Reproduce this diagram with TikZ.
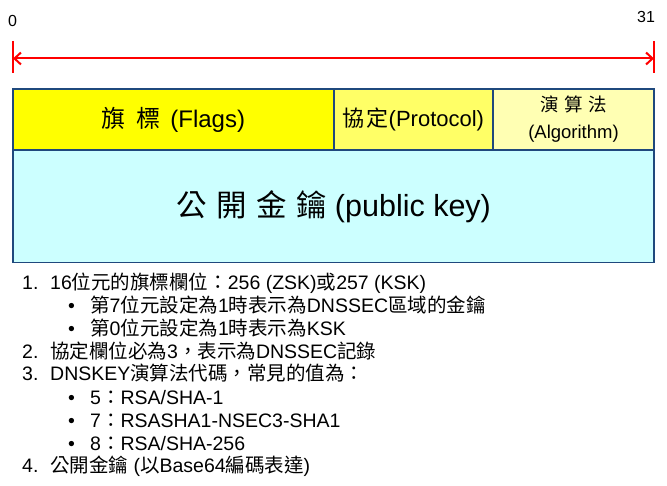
\documentclass[tikz,border=0pt]{standalone}
\usepackage{fontspec}
\setmainfont{Liberation Sans}
\newfontfamily\cjk{Noto Sans CJK TC}
\usetikzlibrary{arrows.meta}
\newcommand\zh[1]{{\cjk #1}}
\definecolor{navy}{RGB}{31,73,125}
\definecolor{flagsY}{RGB}{255,255,0}
\definecolor{protoY}{RGB}{255,255,102}
\definecolor{algoY}{RGB}{255,255,179}
\definecolor{keyC}{RGB}{204,255,255}
\definecolor{redline}{RGB}{255,0,0}
\begin{document}
\begin{tikzpicture}[x=1pt,y=-1pt,
  field/.style={draw=navy, line width=1.8pt, inner sep=0pt, outer sep=0pt, align=center},
  listtxt/.style={anchor=base west, inner sep=0pt, font=\fontsize{19.5}{22}\selectfont},
  numtxt/.style={listtxt},
  bullettxt/.style={listtxt},
  bitlabel/.style={inner sep=0pt, font=\fontsize{16}{18}\selectfont},
  redrule/.style={redline, line width=2pt}
]
\useasboundingbox (0,0) rectangle (667,486);

% bit scale
\node[bitlabel] (b0) at (12.5,21) {0};
\node[bitlabel] (b31) at (646,16.5) {31};
\coordinate (tl1) at (13,41);
\coordinate (tl2) at (13,73);
\coordinate (tr1) at (654,41);
\coordinate (tr2) at (654,73);
\coordinate (al) at (13,58.5);
\coordinate (ar) at (654,58.5);
\draw[redrule] (tl1) -- (tl2);
\draw[redrule] (tr1) -- (tr2);
\draw[redrule, {Straight Barb[length=6.5pt,width=12pt]}-{Straight Barb[length=6.5pt,width=12pt]}] (al) -- (ar);

% fields
\node[field, fill=flagsY, minimum width=321pt, minimum height=61pt,
  font=\fontsize{24}{28}\selectfont] (flags) at (173.5,119.5) {\zh{旗\hspace{0.45em}標}\hspace{0.4em}(Flags)};
\node[field, fill=protoY, minimum width=159pt, minimum height=61pt,
  font=\fontsize{22}{24}\selectfont] (proto) at (413.5,119.5) {\zh{協\hspace{0.08em}定}(Protocol)};
\node[field, fill=algoY, minimum width=161pt, minimum height=61pt,
  font=\fontsize{18.5}{27}\selectfont] (algo) at (573.5,119.5)
  {\raisebox{-2.5pt}{\begin{tabular}{@{}c@{}}\zh{演\hspace{0.3em}算\hspace{0.3em}法}\\[-0.5pt](Algorithm)\end{tabular}}};
\node[field, fill=keyC, minimum width=641pt, minimum height=112pt,
  font=\fontsize{30.5}{32}\selectfont] (pkey) at (333.5,206.5) {\zh{公\hspace{0.32em}開\hspace{0.32em}金\hspace{0.32em}鑰}\hspace{0.25em}(public key)};

% list
\node[numtxt] (n1) at (22,290) {1.};
\node[listtxt] (l1) at (50,290) {16\zh{位元的旗標欄位：}256 (ZSK)\zh{或}257 (KSK)};
\node[numtxt] (d1) at (68,313) {\textbullet};
\node[bullettxt] (l2) at (90,313) {\zh{第}7\zh{位元設定為}1\zh{時表示為}DNSSEC\zh{區域的金鑰}};
\node[numtxt] (d2) at (68,336) {\textbullet};
\node[bullettxt] (l3) at (90,336) {\zh{第}0\zh{位元設定為}1\zh{時表示為}KSK};
\node[numtxt] (n2) at (22,358.5) {2.};
\node[listtxt] (l4) at (50,358.5) {\zh{協定欄位必為}3\zh{，表示為}DNSSEC\zh{記錄}};
\node[numtxt] (n3) at (22,381) {3.};
\node[listtxt] (l5) at (50,381) {DNSKEY\zh{演算法代碼，常見的值為：}};
\node[numtxt] (d3) at (68,404) {\textbullet};
\node[bullettxt] (l6) at (90,404) {5\zh{：}RSA/SHA-1};
\node[numtxt] (d4) at (68,427) {\textbullet};
\node[bullettxt] (l7) at (90,427) {7\zh{：}RSASHA1-NSEC3-SHA1};
\node[numtxt] (d5) at (68,450) {\textbullet};
\node[bullettxt] (l8) at (90,450) {8\zh{：}RSA/SHA-256};
\node[numtxt] (n4) at (22,472.5) {4.};
\node[listtxt] (l9) at (50,472.5) {\zh{公開金鑰} (\zh{以}Base64\zh{編碼表達})};
\end{tikzpicture}
\end{document}
